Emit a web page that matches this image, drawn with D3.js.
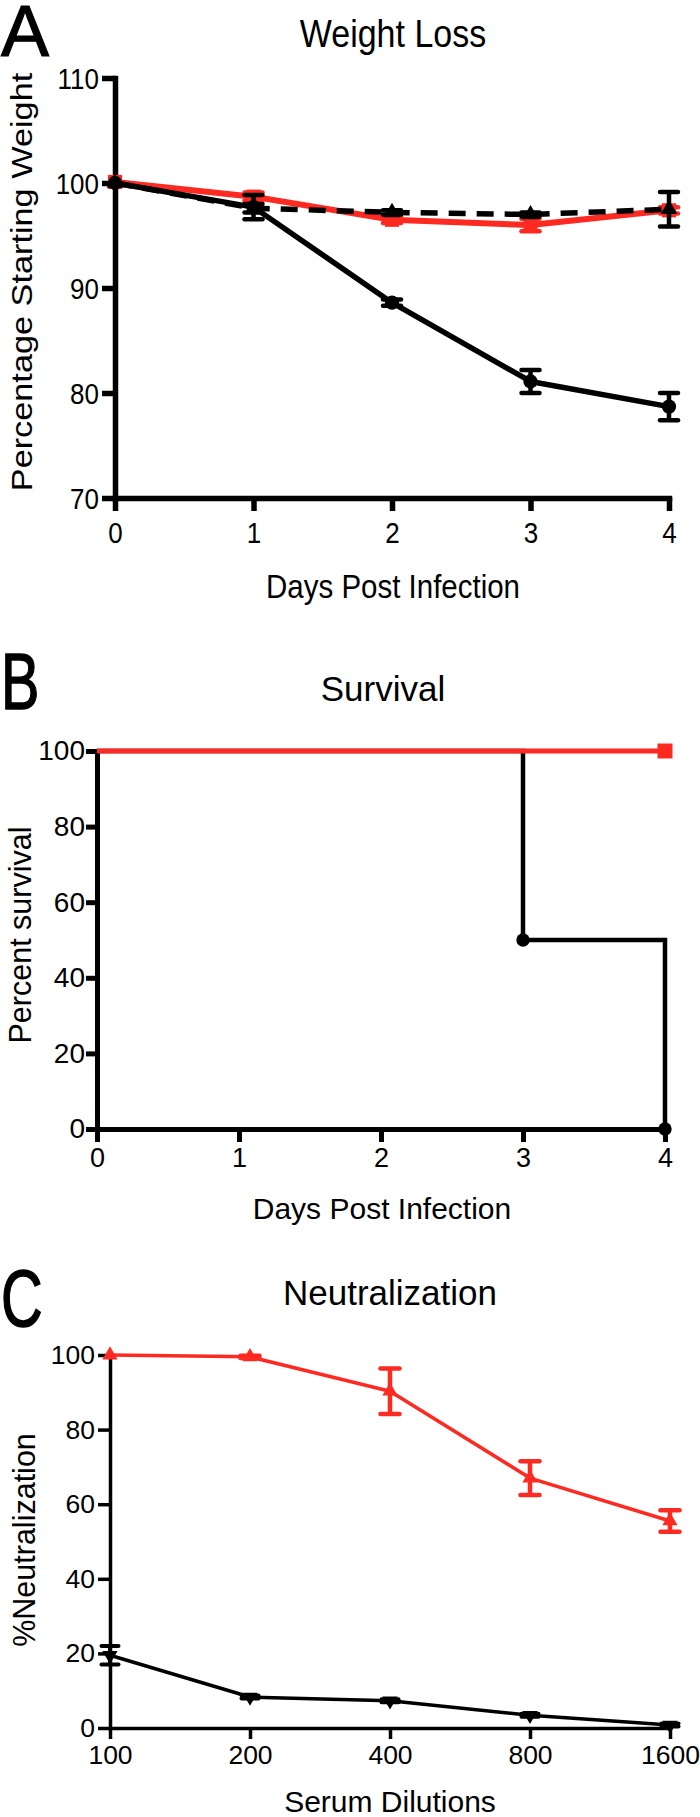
<!DOCTYPE html>
<html>
<head>
<meta charset="utf-8">
<script src="https://cdn.jsdelivr.net/npm/d3@7"></script>
<style>
  html, body { margin: 0; padding: 0; background: #fff; }
  svg { display: block; }
  text { font-family: "Liberation Sans", Arial, Helvetica, sans-serif; fill: #000; }
</style>
</head>
<body>
<svg id="chart" width="700" height="1817"></svg>
<script>
// ---------- Panel A: Weight Loss ----------
const weightDays = [0, 1, 2, 3, 4];
const weightTicksY = [70, 80, 90, 100, 110];
const weightBlack = [100, 97.7, 88.6, 81.1, 78.7];
const weightBlackErr = [0, 1.15, 0.3, 1.1, 1.3];
const weightDashed = [100, 97.6, 97.2, 97.0, 97.5];
const weightDashedErr = [0, 0.4, 0.2, 0.2, 1.65];
const weightRed = [100.1, 98.7, 96.5, 96.0, 97.4];
const weightRedErr = [0, 0.4, 0.3, 0.6, 0.3];

// ---------- Panel B: Survival ----------
const survTicksX = [0, 1, 2, 3, 4];
const survTicksY = [0, 20, 40, 60, 80, 100];
const survDaysBlack = [0, 3, 4];
const survBlack = [100, 50, 0];
const survDaysRed = [0, 4];
const survRed = [100, 100];

// ---------- Panel C: Neutralization ----------
const dilutions = [100, 200, 400, 800, 1600];
const neutTicksY = [0, 20, 40, 60, 80, 100];
const neutRed = [100, 99.5, 90.3, 67, 55.5];
const neutRedErr = [0, 0.3, 6.1, 4.5, 2.9];
const neutBlack = [19.5, 8.3, 7.3, 3.4, 0.8];
const neutBlackErr = [2.5, 0.4, 0.4, 0.4, 0.4];

const RED = "#fd2a22";
const FONT = "'Liberation Sans', Arial, Helvetica, sans-serif";
const svg = d3.select("#chart");

function styleAxis(g, w, fs) {
  g.select(".domain").attr("stroke", "#000").attr("stroke-width", w).attr("stroke-linecap", "square");
  g.selectAll(".tick line").attr("stroke", "#000").attr("stroke-width", w);
  g.selectAll(".tick text").attr("font-size", fs).attr("font-family", FONT).attr("fill", "#000");
}

function errorBars(g, xs, ys, errs, x, y, color, capW, sw) {
  const eb = g.append("g");
  xs.forEach((d, i) => {
    if (!errs[i]) return;
    const cx = x(d), y1 = y(ys[i] + errs[i]), y2 = y(ys[i] - errs[i]);
    eb.append("line").attr("x1", cx).attr("x2", cx).attr("y1", y1).attr("y2", y2)
      .attr("stroke", color).attr("stroke-width", sw);
    [y1, y2].forEach(yy => eb.append("line")
      .attr("x1", cx - capW / 2).attr("x2", cx + capW / 2).attr("y1", yy).attr("y2", yy)
      .attr("stroke", color).attr("stroke-width", sw).attr("stroke-linecap", "round"));
  });
}

function markers(g, xs, ys, x, y, type, size, color, rot) {
  g.append("g").selectAll("path").data(xs).join("path")
    .attr("d", d3.symbol().type(type).size(size))
    .attr("transform", (d, i) => `translate(${x(d)},${y(ys[i])})` + (rot ? ` rotate(${rot})` : ""))
    .attr("fill", color);
}

// ===================== Panel A =====================
{
  const SY = 1.15;
  const x = d3.scaleLinear().domain([0, 4]).range([115, 669]);
  const y = d3.scaleLinear().domain([70, 110]).range([498, 78]);
  const g = svg.append("g");

  const ax = g.append("g").attr("transform", `translate(0,${y(70)})`)
    .call(d3.axisBottom(x).tickValues(weightDays).tickSize(13).tickSizeOuter(0).tickFormat(d3.format("d")));
  styleAxis(ax, 5.5, 26);
  ax.selectAll(".tick text").attr("y", 0).attr("dy", 0).attr("transform", `scale(1,${SY}) translate(0,39)`);

  const ay = g.append("g").attr("transform", `translate(${x(0)},0)`)
    .call(d3.axisLeft(y).tickValues(weightTicksY).tickSize(13).tickSizeOuter(0).tickFormat(d3.format("d")));
  styleAxis(ay, 5.5, 26);
  ay.selectAll(".tick text").attr("x", -16).attr("dy", 0).attr("transform", `scale(1,${SY}) translate(0,9.3)`);

  const line = arr => d3.line().x((d, i) => x(d)).y((d, i) => y(arr[i]));

  // red series
  g.append("path").attr("d", line(weightRed)(weightDays)).attr("fill", "none")
    .attr("stroke", RED).attr("stroke-width", 6).attr("stroke-linejoin", "round");
  errorBars(g, weightDays, weightRed, weightRedErr, x, y, RED, 18, 4.5);
  markers(g, weightDays, weightRed, x, y, d3.symbolSquare, 200, RED);

  // black solid series
  g.append("path").attr("d", line(weightBlack)(weightDays)).attr("fill", "none")
    .attr("stroke", "#000").attr("stroke-width", 5.5).attr("stroke-linejoin", "round");
  errorBars(g, weightDays, weightBlack, weightBlackErr, x, y, "#000", 18, 4.5);
  markers(g, weightDays, weightBlack, x, y, d3.symbolCircle, 160, "#000");

  // black dashed series
  g.append("path").attr("d", line(weightDashed)(weightDays)).attr("fill", "none")
    .attr("stroke", "#000").attr("stroke-width", 5.5).attr("stroke-dasharray", "17,11");
  errorBars(g, weightDays, weightDashed, weightDashedErr, x, y, "#000", 18, 4.5);
  markers(g, weightDays, weightDashed, x, y, d3.symbolTriangle, 120, "#000");

  // texts
  g.append("text").attr("transform", `translate(1,56)`).attr("font-size", 72).attr("stroke", "#000")
    .attr("stroke-width", 1.2).text("A");
  g.append("text").attr("transform", `translate(393,47) scale(1,${SY})`).attr("text-anchor", "middle")
    .attr("font-size", 34).text("Weight Loss");
  g.append("text").attr("transform", `translate(393,598) scale(1,${SY})`).attr("text-anchor", "middle")
    .attr("font-size", 29.5).text("Days Post Infection");
  g.append("text").attr("transform", `translate(32,282) scale(1,${SY}) rotate(-90)`).attr("text-anchor", "middle")
    .attr("font-size", 29.8).text("Percentage Starting Weight");
}

// ===================== Panel B =====================
{
  const x = d3.scaleLinear().domain([0, 4]).range([97, 665]);
  const y = d3.scaleLinear().domain([0, 100]).range([1129, 751]);
  const g = svg.append("g");

  const ax = g.append("g").attr("transform", `translate(0,${y(0)})`)
    .call(d3.axisBottom(x).tickValues(survTicksX).tickSize(13).tickSizeOuter(0).tickPadding(6).tickFormat(d3.format("d")));
  styleAxis(ax, 5, 27);
  const ay = g.append("g").attr("transform", `translate(${x(0)},0)`)
    .call(d3.axisLeft(y).tickValues(survTicksY).tickSize(11).tickSizeOuter(0).tickPadding(1).tickFormat(d3.format("d")));
  styleAxis(ay, 5, 28);

  const step = arr => d3.line().x(d => x(d)).y((d, i) => y(arr[i])).curve(d3.curveStepAfter);
  g.append("path").attr("d", step(survBlack)(survDaysBlack)).attr("fill", "none")
    .attr("stroke", "#000").attr("stroke-width", 4.5);
  markers(g, survDaysBlack.slice(1), survBlack.slice(1), x, y, d3.symbolCircle, 140, "#000");

  g.append("path").attr("d", step(survRed)(survDaysRed)).attr("fill", "none")
    .attr("stroke", RED).attr("stroke-width", 5);
  markers(g, survDaysRed.slice(-1), survRed.slice(-1), x, y, d3.symbolSquare, 225, RED);

  g.append("text").attr("transform", `translate(1,709) scale(0.72,1)`).attr("font-size", 80)
    .attr("stroke", "#000").attr("stroke-width", 1.5).text("B");
  g.append("text").attr("x", 383).attr("y", 701).attr("text-anchor", "middle").attr("font-size", 35).text("Survival");
  g.append("text").attr("x", 382).attr("y", 1219).attr("text-anchor", "middle").attr("font-size", 30).text("Days Post Infection");
  g.append("text").attr("transform", `translate(31,935) rotate(-90)`).attr("text-anchor", "middle")
    .attr("font-size", 30.5).text("Percent survival");
}

// ===================== Panel C =====================
{
  const x = d3.scaleLog().base(2).domain([100, 1600]).range([110, 670]);
  const y = d3.scaleLinear().domain([0, 100]).range([1728, 1355]);
  const g = svg.append("g");

  const ax = g.append("g").attr("transform", `translate(0,${y(0)})`)
    .call(d3.axisBottom(x).tickValues(dilutions).tickSize(11).tickSizeOuter(0).tickPadding(6).tickFormat(d3.format("d")));
  styleAxis(ax, 3.5, 26.5);
  const ay = g.append("g").attr("transform", `translate(${x(100)},0)`)
    .call(d3.axisLeft(y).tickValues(neutTicksY).tickSize(12).tickSizeOuter(0).tickPadding(3).tickFormat(d3.format("d")));
  styleAxis(ay, 3.5, 26.5);

  const line = arr => d3.line().x(d => x(d)).y((d, i) => y(arr[i]));
  g.append("path").attr("d", line(neutRed)(dilutions)).attr("fill", "none")
    .attr("stroke", RED).attr("stroke-width", 3.5).attr("stroke-linejoin", "round");
  errorBars(g, dilutions, neutRed, neutRedErr, x, y, RED, 19, 4.5);
  markers(g, dilutions, neutRed, x, y, d3.symbolTriangle, 100, RED);

  g.append("path").attr("d", line(neutBlack)(dilutions)).attr("fill", "none")
    .attr("stroke", "#000").attr("stroke-width", 3.5).attr("stroke-linejoin", "round");
  errorBars(g, dilutions, neutBlack, neutBlackErr, x, y, "#000", 17, 4);
  markers(g, dilutions, neutBlack, x, y, d3.symbolTriangle, 100, "#000", 180);

  g.append("text").attr("transform", `translate(1,1326) scale(0.72,1)`).attr("font-size", 80)
    .attr("stroke", "#000").attr("stroke-width", 1.5).text("C");
  g.append("text").attr("x", 390).attr("y", 1305).attr("text-anchor", "middle").attr("font-size", 35).text("Neutralization");
  g.append("text").attr("x", 390).attr("y", 1812).attr("text-anchor", "middle").attr("font-size", 30).text("Serum Dilutions");
  g.append("text").attr("transform", `translate(35,1540) rotate(-90)`).attr("text-anchor", "middle")
    .attr("font-size", 30.5).text("%Neutralization");
}
</script>
</body>
</html>
